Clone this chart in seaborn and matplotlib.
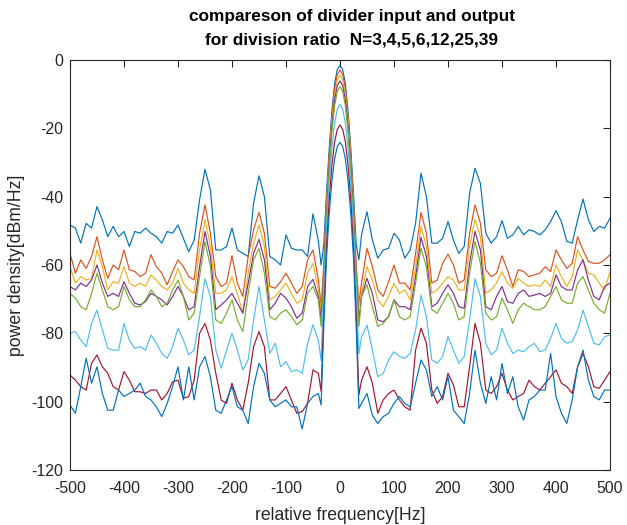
import matplotlib
matplotlib.use('Agg')
import matplotlib.pyplot as plt
import seaborn as sns
import pandas as pd

# frequency grid [Hz], finer around the carrier
freq = ([-500, -490, -480, -470, -460, -450, -440, -430, -420, -410,
         -400, -390, -380, -370, -360, -350, -340, -330, -320, -310,
         -300, -290, -280, -270, -260, -250, -240, -230, -220, -210,
         -200, -190, -180, -170, -160, -150, -140, -130, -120, -110,
         -100, -90, -80, -70, -60, -50, -40,
         -35, -30, -25, -20, -15, -10, -5, 0, 5, 10, 15, 20, 25, 30, 35,
         40, 50, 60, 70, 80, 90, 100, 110, 120, 130,
         140, 150, 160, 170, 180, 190, 200, 210, 220, 230,
         240, 250, 260, 270, 280, 290, 300, 310, 320, 330,
         340, 350, 360, 370, 380, 390, 400, 410, 420, 430,
         440, 450, 460, 470, 480, 490, 500])

# divider input
psd_in = [-48.3, -49.2, -53.6, -47.8, -49.2, -42.9, -46.8, -51.7, -48.7, -51.7,
          -50.2, -54.6, -50.2, -50.7, -49.2, -50.7, -51.7, -53.6, -50.2, -50.7,
          -48.3, -52.2, -56.1, -52.7, -40.9, -32.0, -38.0, -55.6, -55.6, -54.6,
          -49.2, -55.6, -56.6, -57.5, -41.9, -33.9, -40.0, -57.5, -58.5, -60.0,
          -51.2, -55.1, -55.6, -55.6, -57.5, -45.0, -53.0,
          -60.0, -54.0, -39.0, -26.0, -15.0, -7.0, -2.8, -1.5, -2.8, -7.0, -15.0, -26.0, -39.0, -54.0, -58.5,
          -51.0, -44.4, -52.7, -58.0, -55.6, -55.1, -50.7, -52.7, -58.0, -55.6,
          -47.8, -33.1, -40.0, -53.6, -53.6, -52.2, -47.3, -52.7, -56.6, -54.6,
          -39.0, -31.7, -36.1, -50.7, -53.6, -51.7, -47.0, -52.2, -51.2, -48.7,
          -51.2, -49.7, -50.2, -51.2, -49.7, -47.3, -44.1, -47.3, -53.1, -53.6,
          -46.8, -40.7, -46.8, -50.2, -48.7, -49.2, -46.3]

# N = 3
psd_n3 = [-56.6, -62.4, -58.5, -61.0, -57.5, -51.7, -58.5, -63.9, -60.0, -61.4,
          -55.6, -61.4, -61.9, -63.4, -62.4, -57.0, -60.5, -62.4, -65.8, -61.9,
          -58.5, -60.5, -63.4, -64.4, -50.7, -42.4, -50.7, -63.4, -66.3, -65.3,
          -57.3, -65.3, -69.2, -57.5, -49.7, -44.6, -50.7, -66.3, -66.8, -64.9,
          -62.4, -65.3, -68.3, -66.3, -58.5, -55.6, -64.4,
          -72.0, -60.0, -42.0, -28.0, -16.5, -8.5, -4.3, -2.9, -4.3, -8.5, -16.5, -28.0, -42.0, -60.0, -71.0,
          -65.3, -55.1, -60.5, -67.3, -69.2, -64.9, -60.0, -65.3, -65.3, -67.3,
          -56.6, -44.6, -50.7, -65.3, -64.4, -59.5, -56.8, -60.0, -65.3, -64.4,
          -50.7, -42.4, -47.8, -61.4, -63.4, -62.4, -57.3, -61.4, -66.3, -61.4,
          -61.9, -63.4, -62.9, -62.4, -60.5, -61.9, -55.6, -58.5, -61.0, -59.5,
          -51.7, -55.6, -59.0, -59.5, -59.5, -58.5, -57.0]

# N = 4
psd_n4 = [-60.5, -65.3, -63.4, -64.4, -63.9, -55.6, -60.5, -67.3, -64.9, -65.3,
          -60.5, -65.3, -66.3, -65.3, -66.3, -62.9, -64.4, -66.3, -67.3, -65.3,
          -61.0, -65.3, -67.3, -68.3, -55.6, -46.8, -54.6, -68.3, -68.3, -67.3,
          -63.4, -68.3, -74.1, -62.4, -53.6, -48.3, -54.6, -70.2, -69.2, -67.3,
          -65.3, -68.3, -71.2, -70.2, -62.4, -59.5, -67.3,
          -74.0, -61.0, -43.0, -29.5, -18.0, -10.0, -5.8, -4.4, -5.8, -10.0, -18.0, -29.5, -43.0, -61.0, -72.0,
          -68.3, -60.5, -64.4, -70.2, -72.2, -69.2, -65.3, -68.3, -67.3, -70.2,
          -60.5, -48.7, -54.6, -68.3, -67.3, -65.3, -63.4, -64.4, -67.3, -67.3,
          -54.6, -46.7, -51.7, -68.3, -67.3, -65.3, -61.9, -65.3, -66.8, -63.9,
          -65.3, -66.3, -65.8, -66.3, -64.4, -66.3, -60.0, -63.4, -66.3, -63.4,
          -55.6, -58.5, -62.4, -62.9, -65.3, -67.3, -61.9]

# N = 5
psd_n5 = [-66.3, -67.3, -65.3, -66.3, -64.4, -60.0, -65.3, -69.2, -68.3, -69.2,
          -64.9, -68.3, -71.2, -71.7, -70.7, -68.3, -69.2, -70.2, -71.7, -69.2,
          -66.3, -69.2, -73.1, -72.2, -60.5, -50.2, -57.5, -73.1, -71.7, -70.2,
          -68.3, -71.2, -74.1, -65.3, -56.6, -52.5, -58.5, -73.1, -71.2, -68.3,
          -69.7, -72.2, -75.6, -74.1, -66.3, -64.2, -69.2,
          -76.0, -62.0, -45.0, -31.0, -19.5, -11.7, -7.5, -6.1, -7.5, -11.7, -19.5, -31.0, -45.0, -62.0, -76.0,
          -69.2, -63.9, -68.3, -76.1, -76.6, -75.1, -70.2, -72.2, -72.2, -73.1,
          -63.4, -51.9, -57.5, -72.2, -71.2, -68.3, -65.8, -68.3, -72.2, -72.7,
          -59.5, -50.2, -55.6, -72.2, -73.1, -69.2, -66.3, -70.7, -71.2, -68.3,
          -67.3, -69.2, -68.8, -68.3, -69.2, -68.3, -62.9, -66.3, -67.3, -67.3,
          -61.4, -58.5, -64.4, -69.2, -70.2, -66.3, -65.3]

# N = 6
psd_n6 = [-68.3, -69.7, -72.2, -73.1, -68.3, -62.4, -67.3, -72.2, -73.1, -72.2,
          -66.3, -70.2, -72.2, -72.2, -70.2, -67.3, -69.2, -72.2, -71.2, -67.3,
          -64.4, -69.2, -76.1, -74.1, -63.4, -53.1, -60.5, -76.1, -77.1, -74.1,
          -70.2, -76.1, -79.5, -68.3, -58.5, -55.1, -62.4, -75.1, -76.1, -74.1,
          -73.1, -75.1, -77.5, -76.1, -68.3, -66.3, -70.2,
          -78.0, -63.0, -46.0, -32.5, -21.0, -13.4, -9.2, -7.8, -9.2, -13.4, -21.0, -32.5, -46.0, -63.0, -78.0,
          -69.2, -65.8, -72.2, -78.0, -77.1, -75.1, -70.2, -75.1, -76.1, -75.1,
          -65.3, -55.1, -60.5, -73.1, -74.1, -71.2, -68.3, -71.2, -76.1, -75.1,
          -62.4, -53.1, -59.5, -74.1, -76.1, -75.1, -69.7, -73.1, -77.1, -73.1,
          -71.2, -72.2, -73.1, -73.1, -72.2, -69.2, -66.3, -70.2, -71.2, -71.2,
          -65.3, -63.4, -67.3, -71.2, -73.1, -74.1, -68.3]

# N = 12
psd_n12 = [-80.0, -79.5, -82.0, -83.9, -77.1, -73.2, -79.0, -84.4, -84.9, -84.9,
           -77.1, -82.0, -84.4, -83.9, -84.9, -80.5, -82.9, -85.9, -87.3, -83.9,
           -78.5, -82.0, -86.3, -84.9, -75.0, -64.0, -69.2, -84.9, -90.2, -84.9,
           -80.0, -84.9, -90.7, -87.8, -76.1, -66.3, -76.1, -85.9, -82.9, -89.8,
           -88.3, -91.2, -90.7, -91.7, -83.0, -77.5, -82.0,
           -88.0, -68.0, -50.0, -36.0, -26.0, -18.5, -14.4, -13.0, -14.4, -18.5, -26.0, -36.0, -50.0, -68.0, -86.0,
           -81.0, -77.6, -84.9, -92.7, -91.7, -87.8, -85.4, -86.8, -87.3, -85.9,
           -79.0, -68.8, -75.1, -87.8, -88.8, -86.8, -81.0, -84.9, -88.8, -86.8,
           -76.1, -64.0, -69.2, -82.9, -86.3, -84.9, -78.5, -82.9, -85.9, -84.9,
           -85.4, -83.9, -82.9, -85.4, -84.9, -81.5, -77.1, -81.5, -82.9, -82.4,
           -79.0, -73.2, -78.0, -82.9, -83.4, -81.0, -80.5]

# N = 25
psd_n25 = [-92.2, -93.7, -95.6, -96.6, -88.8, -86.3, -89.8, -91.7, -95.6, -96.6,
           -91.2, -93.7, -97.1, -97.1, -97.6, -96.6, -96.6, -99.5, -97.6, -94.2,
           -93.7, -99.0, -98.5, -93.7, -80.0, -77.1, -82.0, -91.7, -99.5, -100.5,
           -94.6, -99.5, -102.5, -94.6, -83.9, -79.5, -83.9, -99.5, -99.5, -97.6,
           -95.6, -99.5, -103.4, -102.9, -100.5, -90.7, -91.7,
           -97.0, -74.0, -55.0, -41.0, -31.0, -24.0, -20.3, -19.0, -20.3, -24.0, -31.0, -41.0, -55.0, -74.0, -98.0,
           -93.7, -89.8, -94.6, -103.4, -99.5, -97.6, -96.6, -99.5, -101.5, -102.5,
           -84.9, -78.5, -82.9, -96.6, -100.5, -98.5, -91.7, -95.1, -101.5, -101.5,
           -89.8, -77.1, -82.9, -96.6, -97.6, -95.6, -91.7, -96.6, -99.5, -98.5,
           -97.6, -93.7, -95.6, -96.6, -94.6, -92.7, -90.7, -94.6, -95.6, -97.6,
           -89.8, -85.9, -89.8, -95.6, -96.1, -93.7, -91.2]

# N = 39
psd_n39 = [-101.0, -103.4, -95.6, -87.3, -94.6, -89.8, -97.6, -102.5, -102.5, -96.6,
           -98.5, -97.6, -96.6, -94.6, -98.5, -99.5, -101.5, -104.4, -100.5, -95.6,
           -89.8, -99.5, -89.8, -99.5, -89.8, -86.8, -92.7, -102.5, -103.4, -99.5,
           -95.6, -101.5, -102.5, -106.4, -95.6, -88.8, -91.7, -99.5, -101.5, -100.5,
           -99.5, -101.5, -101.5, -108.0, -100.5, -98.5, -97.6,
           -101.0, -78.0, -58.0, -45.0, -35.5, -29.0, -25.3, -24.1, -25.3, -29.0, -35.5, -45.0, -58.0, -78.0, -102.0,
           -100.5, -97.6, -104.0, -106.4, -104.4, -103.4, -100.5, -98.5, -100.5, -101.5,
           -94.6, -87.8, -90.7, -98.5, -95.6, -99.5, -92.7, -102.5, -104.4, -106.4,
           -97.6, -84.9, -94.6, -100.5, -92.7, -99.5, -88.8, -97.6, -92.7, -101.5,
           -105.4, -99.5, -98.5, -96.6, -96.6, -85.9, -98.5, -103.4, -106.4, -99.5,
           -89.8, -84.9, -93.7, -98.5, -99.5, -96.6, -96.6]

curves = ['input', 'N=3', 'N=4', 'N=5', 'N=6', 'N=12', 'N=25', 'N=39']
# MATLAB default line colour order
colors = ['#0072BD', '#D95319', '#EDB120', '#7E2F8E', '#77AC30',
          '#4DBEEE', '#A2142F', '#0072BD']


def plot(df):
    sns.set_style('white')
    plt.rcParams['font.family'] = ['Liberation Sans', 'DejaVu Sans']
    plt.rcParams['axes.unicode_minus'] = False

    fig = plt.figure(figsize=(6.27, 5.25), dpi=100)
    ax = fig.add_axes([0.1116, 0.1048, 0.8613, 0.7809])

    sns.lineplot(data=df, x='freq', y='psd', hue='curve', hue_order=curves,
                 palette=colors, linewidth=0.85, legend=False, sort=False,
                 estimator=None, ax=ax)

    ax.set_xlim(-500, 500)
    ax.set_ylim(-120, 0)
    ax.set_xticks(range(-500, 501, 100))
    ax.set_yticks(range(-120, 1, 20))

    ink = '#262626'
    for s in ax.spines.values():
        s.set_color(ink)
        s.set_linewidth(0.8)
    ax.tick_params(direction='in', top=True, right=True, length=5,
                   width=0.8, color=ink, labelcolor=ink, labelsize=11.4)
    ax.tick_params(axis='x', pad=8)
    ax.tick_params(axis='y', pad=5)

    ax.set_xlabel('relative frequency[Hz]', fontsize=12.7, color=ink, labelpad=8)
    ax.set_ylabel('power density[dBm/Hz]', fontsize=12.7, color=ink, labelpad=4)
    ax.set_title('compareson of divider input and output\n'
                 'for division ratio  N=3,4,5,6,12,25,39',
                 fontsize=12.4, fontweight='bold', color='black', pad=11,
                 linespacing=1.7, x=0.522)

    fig.savefig('out.png', dpi=100)


if __name__ == '__main__':
    rows = []
    series = [psd_in, psd_n3, psd_n4, psd_n5, psd_n6, psd_n12, psd_n25, psd_n39]
    for name, vals in zip(curves, series):
        for f, v in zip(freq, vals):
            rows.append({'curve': name, 'freq': f, 'psd': v})
    plot(pd.DataFrame(rows))
